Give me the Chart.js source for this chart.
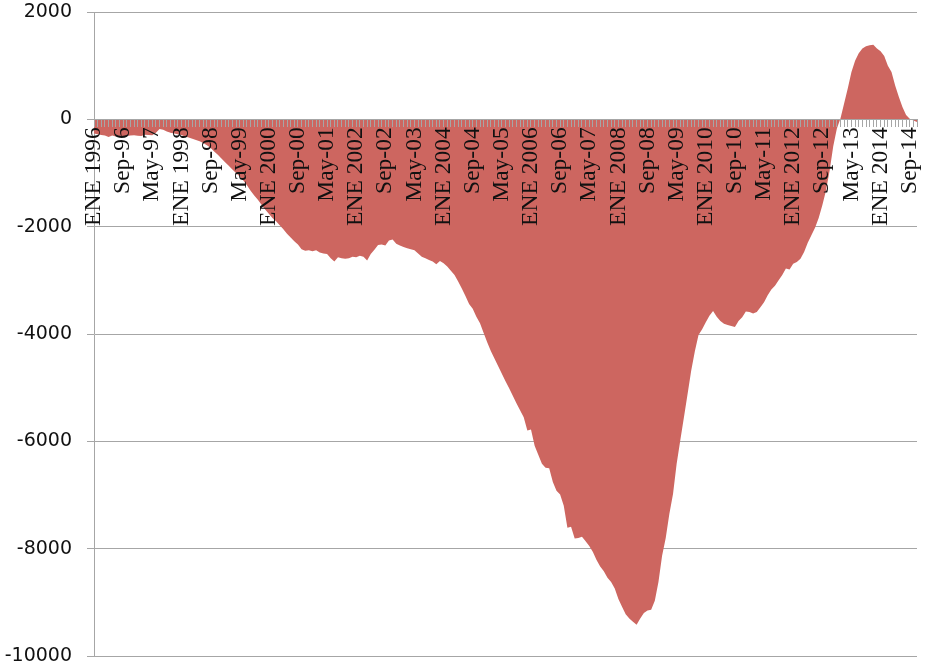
<!DOCTYPE html>
<html lang="es">
<head>
<meta charset="utf-8">
<title>Saldo acumulado</title>
<script src="https://cdn.jsdelivr.net/npm/chart.js@4.4.1/dist/chart.umd.min.js"></script>
<style>
  body { margin: 0; background: #fff; }
  #grafico { display: block; }
</style>
</head>
<body>
<canvas id="grafico" width="931" height="667"></canvas>
<script>
// meses: ENE 1996 .. Nov 2014 (227 puntos)
var mesesAbr = ['ENE', 'Feb', 'Mar', 'Abr', 'May', 'Jun', 'Jul', 'Ago', 'Sep', 'Oct', 'Nov', 'Dic'];
var anioInicio = 1996;
var cadaN = 8; // una etiqueta cada 8 meses

// valores
var valores = [
  -265, -280, -290, -300, -330, -300, -320, -330, -315, -310,
  -300, -295, -305, -310, -285, -290, -295, -250, -180, -195,
  -225, -250, -265, -280, -290, -320, -340, -360, -385, -410,
  -440, -485, -530, -600, -660, -730, -800, -865, -935, -1000,
  -1065, -1140, -1230, -1330, -1420, -1500, -1590, -1680, -1760, -1840,
  -1900, -1975, -2050, -2130, -2200, -2270, -2330, -2420, -2450, -2440,
  -2460, -2440, -2480, -2500, -2510, -2590, -2650, -2570, -2590, -2600,
  -2590, -2560, -2570, -2540, -2560, -2630, -2510, -2430, -2340, -2330,
  -2350, -2260, -2240, -2320, -2350, -2380, -2400, -2420, -2440, -2500,
  -2560, -2590, -2620, -2650, -2700, -2640, -2680, -2740, -2820, -2900,
  -3020, -3150, -3290, -3440, -3530, -3680, -3800, -3980, -4160, -4320,
  -4460, -4600, -4740, -4880, -5010, -5150, -5290, -5420, -5550, -5800,
  -5780, -6080, -6250, -6420, -6490, -6500, -6760, -6920, -6990, -7200,
  -7610, -7590, -7810, -7800, -7780, -7860, -7950, -8060, -8210, -8330,
  -8420, -8540, -8620, -8740, -8940, -9080, -9220, -9300, -9360, -9420,
  -9300, -9200, -9150, -9140, -8970, -8620, -8130, -7800, -7350, -6980,
  -6420, -5980, -5550, -5120, -4680, -4320, -4020, -3910, -3780, -3660,
  -3570, -3680, -3760, -3810, -3830, -3850, -3870, -3760, -3690, -3580,
  -3590, -3620, -3590, -3500, -3410, -3280, -3170, -3100, -3000, -2900,
  -2780, -2800, -2690, -2660, -2600, -2470, -2300, -2160, -2020, -1840,
  -1600, -1330, -960, -500, -170, 20, 300, 580, 880, 1090,
  1230, 1320, 1360, 1380, 1390, 1320, 1270, 1180, 1000, 880,
  630, 420, 230, 80, 10, -20, -50
];

// eje Y
var yMin = -10000;
var yMax = 2000;
var yPaso = 2000;

// etiquetas de meses: enero como "ENE 1996", resto "Sep-96"
var meses = [];
for (var i = 0; i < valores.length; i++) {
  var anio = anioInicio + Math.floor(i / 12);
  var m = i % 12;
  if (m === 0) {
    meses.push('ENE ' + anio);
  } else {
    meses.push(mesesAbr[m] + '-' + String(anio).slice(2));
  }
}

// sombra suave bajo el área
var sombra = {
  id: 'sombra',
  beforeDatasetDraw: function (chart) {
    var c = chart.ctx;
    c.save();
    c.shadowColor = 'rgba(0,0,0,0.5)';
    c.shadowBlur = 5;
    c.shadowOffsetX = 2;
    c.shadowOffsetY = 3;
  },
  afterDatasetDraw: function (chart) {
    chart.ctx.restore();
  }
};

// sin relleno extra alrededor del área del gráfico
function sinPadding(scale) {
  scale.paddingTop = 0;
  scale.paddingBottom = 0;
  scale.paddingLeft = 0;
  scale.paddingRight = 0;
}

var ctx = document.getElementById('grafico').getContext('2d');
var chart = new Chart(ctx, {
  type: 'line',
  data: {
    labels: meses,
    datasets: [{
      data: valores,
      fill: 'origin',
      backgroundColor: 'rgb(205,102,96)',
      borderWidth: 0,
      pointRadius: 0,
      tension: 0
    }]
  },
  options: {
    responsive: false,
    animation: false,
    layout: { padding: { top: 12, right: 14, bottom: 11, left: 0 } },
    plugins: {
      legend: { display: false },
      tooltip: { enabled: false }
    },
    scales: {
      x: {
        position: { y: 0 },
        offset: false,
        afterFit: sinPadding,
        border: { color: '#a6a6a6', width: 1, z: 1 },
        grid: {
          drawOnChartArea: false,
          drawTicks: true,
          tickLength: 7,
          color: '#a6a6a6',
          z: 1
        },
        ticks: {
          z: 1,
          autoSkip: false,
          minRotation: 90,
          maxRotation: 90,
          padding: 1,
          color: '#111',
          font: { family: '"Liberation Serif", "DejaVu Serif", serif', size: 23.5 },
          callback: function (val, idx) {
            return idx % cadaN === 0 ? meses[idx] : '';
          }
        }
      },
      y: {
        min: yMin,
        max: yMax,
        afterFit: function (scale) {
          sinPadding(scale);
          scale.width = 94;
        },
        border: { color: '#a6a6a6', width: 1 },
        grid: { color: '#a6a6a6', lineWidth: 1, tickLength: 7 },
        ticks: {
          stepSize: yPaso,
          padding: 15,
          color: '#111',
          font: { family: '"DejaVu Sans", sans-serif', size: 19 },
          callback: function (v) { return String(v); }
        }
      }
    }
  },
  plugins: [sombra]
});
</script>
</body>
</html>
